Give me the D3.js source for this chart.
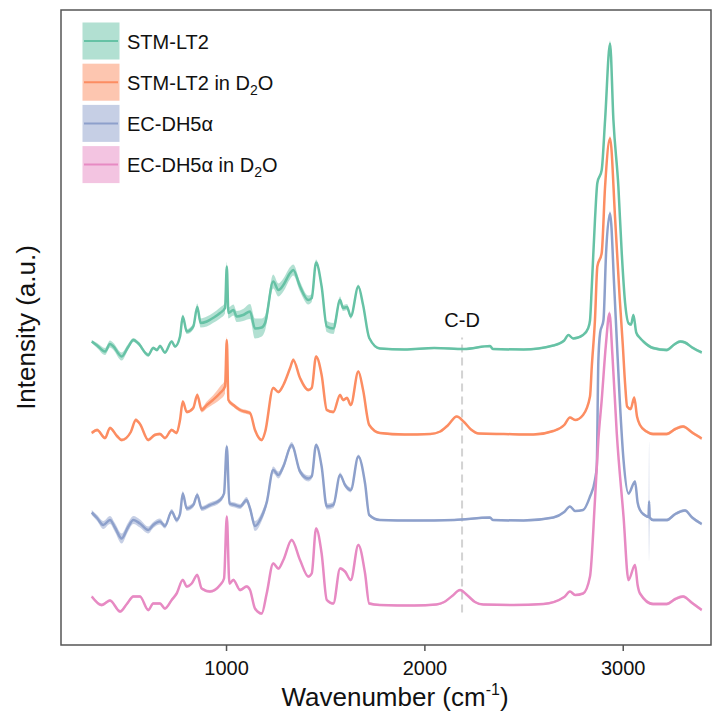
<!DOCTYPE html>
<html>
<head>
<meta charset="utf-8">
<script src="https://cdn.jsdelivr.net/npm/d3@7"></script>
<style>
  html, body { margin: 0; padding: 0; background: #fff; }
  svg { display: block; font-family: "Liberation Sans", Arial, sans-serif; }
</style>
</head>
<body>
<svg id="chart" width="722" height="720"></svg>
<script>
// Raman spectra: [wavenumber (cm-1), mean intensity (a.u.), std. dev.]
const stmLT2 = [
  [323, 1.4, 0.3], [350, 0.6, 0.5], [390, -0.6, 0.7], [415, 0.9, 0.7], [430, 0.5, 0.7],
  [474, -1.6, 0.8], [505, 0.2, 0.6], [533, 1.7, 0.4], [556, 1.1, 0.4], [608, -1.3, 0.4],
  [633, 0.1, 0.3], [652, -0.3, 0.3], [667, 0.5, 0.3], [692, -0.8, 0.3], [726, 1.4, 0.3],
  [743, 0.4, 0.3], [768, 2.4, 0.3], [782, 6.4, 0.4], [802, 3.4, 0.5], [835, 4.4, 0.6],
  [855, 8.3, 0.7], [872, 5.1, 0.9], [903, 5.4, 1.0], [934, 6.1, 1.0], [970, 7.1, 1.1],
  [995, 8.1, 1.1], [1004, 16.4, 0.9], [1012, 7.1, 1.1], [1037, 7.7, 1.1], [1054, 6.4, 1.1],
  [1086, 6.7, 1.2], [1121, 7.4, 1.5], [1146, 4.0, 2.0], [1180, 4.2, 1.8], [1197, 5.1, 1.5],
  [1238, 13.4, 1.4], [1264, 11.7, 1.3], [1289, 12.7, 1.3], [1323, 15.1, 1.2], [1339, 15.7, 1.1],
  [1373, 12.4, 1.0], [1415, 9.7, 0.9], [1432, 10.1, 0.8], [1454, 17.2, 0.6], [1482, 12.4, 0.7],
  [1508, 4.4, 1.1], [1541, 4.0, 1.1], [1575, 9.7, 0.7], [1590, 8.1, 0.6], [1610, 8.3, 0.6],
  [1629, 6.4, 0.5], [1667, 12.4, 0.4], [1691, 8.7, 0.3], [1722, 2.1, 0.3], [1776, 0.0, 0.2],
  [1900, -0.2, 0.2], [2050, 0.1, 0.2], [2200, -0.1, 0.2], [2331, 0.5, 0.2], [2345, -0.1, 0.2],
  [2500, -0.2, 0.2], [2650, 0.6, 0.2], [2705, 1.6, 0.2], [2726, 2.7, 0.2], [2750, 2.0, 0.2],
  [2800, 2.7, 0.2], [2825, 4.0, 0.2], [2835, 5.6, 0.3], [2844, 12.4, 0.3], [2860, 25.7, 0.3],
  [2872, 33.1, 0.3], [2894, 35.7, 0.3], [2911, 45.7, 0.4], [2936, 61.0, 0.6], [2953, 45.7, 0.4],
  [2978, 32.4, 0.3], [2995, 19.1, 0.3], [3012, 9.1, 0.3], [3030, 5.0, 0.3], [3042, 4.8, 0.3],
  [3054, 6.7, 0.3], [3068, 3.2, 0.3], [3087, 2.1, 0.3], [3104, 1.4, 0.3], [3153, 0.1, 0.3],
  [3222, -0.3, 0.3], [3260, 0.8, 0.3], [3290, 1.4, 0.3], [3314, 1.2, 0.3], [3350, 0.2, 0.3],
  [3398, -0.8, 0.3]
];

const stmLT2D2O = [
  [323, 0.2, 0.3], [350, 0.8, 0.3], [390, -0.8, 0.3], [415, 1.2, 0.3], [450, -0.4, 0.3],
  [474, -1.2, 0.3], [520, 0.4, 0.3], [545, 2.8, 0.4], [566, 2.0, 0.3], [608, -1.2, 0.3],
  [640, -0.2, 0.3], [667, 0.0, 0.3], [692, -0.8, 0.3], [726, 0.8, 0.3], [751, 0.2, 0.3],
  [768, 2.8, 0.3], [782, 6.5, 0.3], [802, 4.4, 0.3], [835, 5.2, 0.4], [855, 7.8, 0.4],
  [877, 4.8, 0.5], [903, 5.8, 0.7], [934, 6.8, 0.9], [970, 8.2, 1.3], [995, 9.5, 1.4],
  [1004, 18.8, 0.6], [1012, 6.8, 0.5], [1037, 5.8, 0.4], [1071, 4.8, 0.4], [1104, 4.4, 0.4],
  [1121, 4.2, 0.4], [1146, 0.8, 0.3], [1180, -1.2, 0.3], [1197, 0.4, 0.3], [1238, 9.2, 0.3],
  [1264, 8.4, 0.3], [1289, 9.8, 0.3], [1323, 13.2, 0.4], [1339, 14.8, 0.4], [1373, 11.2, 0.3],
  [1415, 8.8, 0.3], [1432, 9.2, 0.3], [1454, 15.5, 0.3], [1482, 11.8, 0.3], [1508, 4.8, 0.3],
  [1541, 4.4, 0.3], [1575, 7.8, 0.3], [1590, 6.8, 0.3], [1610, 7.2, 0.3], [1629, 5.8, 0.3],
  [1667, 12.5, 0.3], [1691, 8.8, 0.3], [1722, 1.8, 0.3], [1776, 0.2, 0.2], [1900, -0.1, 0.2],
  [2030, 0.0, 0.2], [2080, 0.5, 0.2], [2120, 1.8, 0.2], [2163, 3.5, 0.2], [2200, 2.4, 0.2],
  [2235, 0.9, 0.2], [2275, 0.1, 0.2], [2400, 0.0, 0.2], [2550, -0.1, 0.2], [2650, 0.6, 0.2],
  [2705, 1.8, 0.2], [2734, 3.3, 0.2], [2760, 2.8, 0.2], [2800, 3.8, 0.2], [2835, 7.5, 0.2],
  [2844, 13.5, 0.3], [2860, 22.8, 0.3], [2872, 33.5, 0.3], [2894, 36.2, 0.3], [2911, 49.5, 0.4],
  [2936, 59.1, 0.5], [2962, 42.8, 0.4], [2985, 27.0, 0.3], [3000, 18.0, 0.3], [3012, 10.0, 0.3],
  [3022, 5.5, 0.3], [3040, 5.0, 0.3], [3058, 7.3, 0.3], [3072, 3.5, 0.3], [3087, 1.8, 0.3],
  [3120, 0.5, 0.3], [3153, 0.0, 0.3], [3222, 0.0, 0.3], [3265, 1.0, 0.3], [3304, 1.5, 0.3],
  [3350, 0.3, 0.3], [3398, -0.9, 0.3]
];

const ecDH5a = [
  [323, 1.5, 0.5], [350, 0.4, 0.6], [381, -1.0, 0.8], [415, 0.0, 0.8], [440, -1.5, 0.9],
  [474, -3.7, 1.0], [505, -1.5, 0.9], [533, 0.0, 0.8], [566, -0.7, 0.8], [608, -2.0, 0.7],
  [633, -1.0, 0.6], [667, -0.3, 0.6], [692, -1.2, 0.5], [726, 1.7, 0.5], [751, 0.0, 0.5],
  [768, 1.2, 0.5], [782, 5.3, 0.5], [802, 2.3, 0.5], [835, 3.0, 0.5], [855, 5.0, 0.5],
  [877, 2.3, 0.5], [919, 3.0, 0.5], [970, 4.0, 0.5], [990, 5.3, 0.5], [1004, 14.7, 0.5],
  [1017, 3.3, 0.5], [1045, 3.0, 0.5], [1071, 2.7, 0.5], [1104, 4.0, 0.6], [1121, 2.3, 0.7],
  [1146, -1.2, 1.0], [1180, 0.7, 0.9], [1205, 3.5, 0.8], [1238, 10.0, 0.7], [1264, 9.0, 0.7],
  [1289, 10.7, 0.7], [1331, 15.0, 0.6], [1373, 9.7, 0.6], [1415, 8.3, 0.6], [1432, 8.7, 0.5],
  [1454, 15.0, 0.4], [1482, 10.7, 0.4], [1508, 2.7, 0.6], [1541, 3.0, 0.6], [1575, 9.0, 0.5],
  [1600, 7.0, 0.5], [1629, 6.0, 0.5], [1667, 12.7, 0.4], [1701, 7.3, 0.3], [1722, 1.0, 0.3],
  [1776, 0.0, 0.2], [1950, -0.1, 0.2], [2150, 0.0, 0.2], [2331, 0.5, 0.2], [2345, 0.0, 0.2],
  [2500, -0.1, 0.2], [2650, 0.5, 0.2], [2705, 1.6, 0.2], [2734, 2.7, 0.2], [2760, 1.8, 0.2],
  [2800, 2.0, 0.2], [2835, 4.7, 0.2], [2860, 8.0, 0.3], [2869, 10.7, 0.3], [2877, 31.7, 0.3],
  [2886, 37.4, 0.3], [2903, 40.0, 0.3], [2916, 53.4, 0.4], [2936, 61.3, 0.5], [2957, 46.7, 0.4],
  [2970, 36.0, 0.3], [2985, 24.0, 0.3], [3004, 12.0, 0.3], [3029, 5.3, 0.3], [3062, 7.7, 0.3],
  [3075, 3.5, 0.3], [3087, 2.0, 0.3], [3110, 1.0, 0.3], [3130, 0.6, 0.3], [3133, 3.7, 12.0],
  [3136, 0.5, 0.3], [3153, 0.0, 0.3], [3222, 0.0, 0.3], [3265, 1.2, 0.3], [3314, 1.9, 0.3],
  [3350, 0.5, 0.3], [3398, -0.8, 0.3]
];

const ecDH5aD2O = [
  [323, 1.7, 0.3], [373, 0.0, 0.3], [415, 0.9, 0.3], [466, -1.3, 0.3], [500, 0.2, 0.3],
  [533, 1.7, 0.3], [566, 1.7, 0.3], [608, -1.0, 0.3], [633, 0.3, 0.3], [667, 0.3, 0.3],
  [692, -0.7, 0.3], [726, 1.0, 0.3], [751, 2.3, 0.3], [782, 5.0, 0.3], [802, 3.7, 0.3],
  [827, 4.3, 0.3], [855, 6.0, 0.3], [877, 3.3, 0.3], [919, 2.7, 0.3], [970, 4.0, 0.3],
  [990, 5.3, 0.3], [1004, 17.7, 0.4], [1017, 4.3, 0.3], [1037, 5.0, 0.3], [1071, 3.0, 0.3],
  [1104, 3.7, 0.3], [1121, 3.0, 0.3], [1146, -0.7, 0.3], [1180, -1.7, 0.3], [1205, 2.3, 0.3],
  [1238, 8.3, 0.3], [1264, 7.3, 0.3], [1289, 9.0, 0.3], [1331, 13.0, 0.3], [1373, 9.0, 0.3],
  [1415, 5.7, 0.3], [1432, 6.3, 0.3], [1454, 15.3, 0.3], [1482, 10.3, 0.3], [1508, 1.0, 0.3],
  [1541, 0.3, 0.3], [1575, 7.3, 0.3], [1600, 6.7, 0.3], [1629, 5.0, 0.3], [1667, 12.0, 0.3],
  [1701, 6.3, 0.3], [1722, 0.3, 0.3], [1776, 0.0, 0.2], [1950, -0.1, 0.2], [2060, 0.1, 0.2],
  [2100, 0.6, 0.2], [2140, 1.8, 0.2], [2180, 3.0, 0.2], [2215, 2.0, 0.2], [2255, 0.6, 0.2],
  [2297, 0.1, 0.2], [2450, 0.0, 0.2], [2600, 0.2, 0.2], [2705, 1.6, 0.2], [2734, 2.7, 0.2],
  [2760, 2.0, 0.2], [2800, 2.3, 0.2], [2835, 5.7, 0.2], [2860, 21.0, 0.3], [2877, 33.0, 0.3],
  [2894, 41.0, 0.3], [2915, 52.0, 0.4], [2933, 58.3, 0.5], [2948, 50.0, 0.4], [2970, 34.3, 0.3],
  [3004, 17.7, 0.3], [3029, 5.0, 0.3], [3062, 8.0, 0.3], [3075, 4.0, 0.3], [3087, 2.3, 0.3],
  [3153, 0.2, 0.3], [3222, 0.2, 0.3], [3265, 1.2, 0.3], [3304, 1.7, 0.3], [3350, 0.4, 0.3],
  [3398, -1.0, 0.3]
];

// Series names ("_2" marks a subscript 2), colours and vertical stacking offsets
const seriesNames = ["STM-LT2", "STM-LT2 in D_2O", "EC-DH5α", "EC-DH5α in D_2O"];
const seriesColors = ["#66c2a5", "#fc8d62", "#8da0cb", "#e78ac3"];
const seriesOffsets = [51.3, 34.2, 17, 0];
const seriesData = [stmLT2, stmLT2D2O, ecDH5a, ecDH5aD2O];

const xTicks = [1000, 2000, 3000];
const xDomain = [168, 3445];
const yDomain = [-8, 119];

// C-D stretching band marker
const cdMarker = { label: "C-D", wavenumber: 2190, low: -1.5, high: 53.5, labelAt: 55.6 };

const svg = d3.select("#chart");
const plot = { left: 61, right: 711, top: 10, bottom: 645 };

const x = d3.scaleLinear().domain(xDomain).range([plot.left, plot.right]);
const y = d3.scaleLinear().domain(yDomain).range([plot.bottom, plot.top]);

const series = seriesNames.map((name, i) => ({
  name, color: seriesColors[i], offset: seriesOffsets[i], values: seriesData[i]
}));

// C-D dashed marker and label
svg.append("line")
  .attr("x1", x(cdMarker.wavenumber)).attr("x2", x(cdMarker.wavenumber))
  .attr("y1", y(cdMarker.low)).attr("y2", y(cdMarker.high))
  .attr("stroke", "#d3d3d3").attr("stroke-width", 2)
  .attr("stroke-dasharray", "8,5");

svg.append("text")
  .attr("x", x(cdMarker.wavenumber)).attr("y", y(cdMarker.labelAt))
  .attr("text-anchor", "middle")
  .attr("font-size", 20).attr("fill", "#111")
  .text(cdMarker.label);

// Standard-deviation ribbons
const ribbon = off => d3.area()
  .x(d => x(d[0]))
  .y0(d => y(off + d[1] - d[2]))
  .y1(d => y(off + d[1] + d[2]))
  .curve(d3.curveMonotoneX);

svg.append("g").selectAll("path")
  .data(series).join("path")
  .attr("d", s => ribbon(s.offset)(s.values))
  .attr("fill", s => s.color)
  .attr("fill-opacity", 0.5);

// Mean spectra
const trace = off => d3.line()
  .x(d => x(d[0]))
  .y(d => y(off + d[1]))
  .curve(d3.curveMonotoneX);

svg.append("g").selectAll("path")
  .data(series).join("path")
  .attr("d", s => trace(s.offset)(s.values))
  .attr("fill", "none")
  .attr("stroke", s => s.color)
  .attr("stroke-width", 2.5)
  .attr("stroke-linejoin", "round");

// Panel frame
svg.append("rect")
  .attr("x", plot.left).attr("y", plot.top)
  .attr("width", plot.right - plot.left).attr("height", plot.bottom - plot.top)
  .attr("fill", "none").attr("stroke", "#555").attr("stroke-width", 1.5);

// Bottom axis
const xAxis = svg.append("g")
  .attr("transform", `translate(0,${plot.bottom})`)
  .call(d3.axisBottom(x).tickValues(xTicks).tickSize(6).tickPadding(10).tickFormat(d => String(d)));
xAxis.select(".domain").remove();
xAxis.selectAll(".tick line").attr("stroke", "#555").attr("stroke-width", 1.5);
xAxis.selectAll(".tick text")
  .attr("font-size", 20).attr("fill", "#111")
  .attr("font-family", "'Liberation Sans', Arial, sans-serif");

// Axis titles
const xTitle = svg.append("text")
  .attr("x", 395).attr("y", 706)
  .attr("text-anchor", "middle")
  .attr("font-size", 26).attr("fill", "#111");
xTitle.append("tspan").text("Wavenumber (cm");
xTitle.append("tspan").attr("font-size", 16).attr("dy", -11).text("-1");
xTitle.append("tspan").attr("dy", 11).text(")");

svg.append("text")
  .attr("transform", `translate(35,${(plot.top + plot.bottom) / 2}) rotate(-90)`)
  .attr("text-anchor", "middle")
  .attr("font-size", 26).attr("fill", "#111")
  .text("Intensity (a.u.)");

// Legend
const legend = svg.append("g");
const legendTop = 41, legendStep = 41.2, keySize = 37;
series.forEach((s, i) => {
  const cy = legendTop + i * legendStep;
  const g = legend.append("g");
  g.append("rect")
    .attr("x", 82.5).attr("y", cy - keySize / 2)
    .attr("width", keySize).attr("height", keySize)
    .attr("fill", s.color).attr("fill-opacity", 0.5);
  g.append("line")
    .attr("x1", 84).attr("x2", 118)
    .attr("y1", cy).attr("y2", cy)
    .attr("stroke", s.color).attr("stroke-width", 2);
  const t = g.append("text")
    .attr("x", 127).attr("y", cy + 7.5)
    .attr("font-size", 20).attr("fill", "#111");
  const parts = s.name.split(/_(\d)/);
  parts.forEach((p, k) => {
    if (k % 2 === 1) {
      t.append("tspan").attr("font-size", 14).attr("dy", 5).text(p);
    } else if (p.length) {
      const sp = t.append("tspan").text(p);
      if (k > 0) sp.attr("dy", -5);
    }
  });
});
</script>
</body>
</html>
